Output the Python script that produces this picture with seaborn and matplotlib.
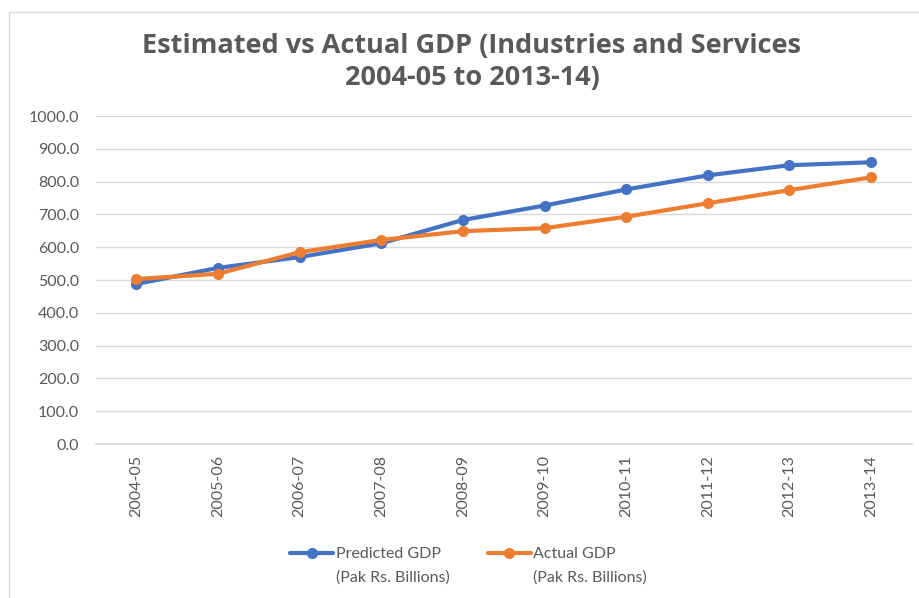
import matplotlib.pyplot as plt
import numpy as np
import pandas as pd
import seaborn as sns
from matplotlib.legend_handler import HandlerLine2D
from matplotlib.lines import Line2D

YEARS = ["2004-05", "2005-06", "2006-07", "2007-08", "2008-09",
         "2009-10", "2010-11", "2011-12", "2012-13", "2013-14"]
PREDICTED = [488, 537, 570, 612, 683, 727, 776, 819, 850, 859]
ACTUAL = [503, 519, 585, 622, 649, 658, 693, 734, 774, 813]
SERIES = ["Predicted GDP\n(Pak Rs. Billions)", "Actual GDP\n(Pak Rs. Billions)"]
COLORS = ["#4472C4", "#ED7D31"]

df = pd.DataFrame({
    "year": YEARS * 2,
    "gdp": PREDICTED + ACTUAL,
    "series": [SERIES[0]] * len(YEARS) + [SERIES[1]] * len(YEARS),
})


class TopLineHandler(HandlerLine2D):
    """Put the legend handle beside the first text line, as Excel does."""

    def create_artists(self, *args, **kwargs):
        artists = super().create_artists(*args, **kwargs)
        for a in artists:
            a.set_ydata(np.asarray(a.get_ydata()) + 9)
        return artists


sns.set_theme(style="white")
plt.rcParams["font.family"] = ["Lato", "DejaVu Sans"]

fig = plt.figure(figsize=(9.2, 5.98), dpi=100)
ax = fig.add_axes([0.104, 0.2575, 0.887, 0.5485])

sns.lineplot(data=df, x="year", y="gdp", hue="series", palette=COLORS,
             marker="o", markersize=8, markeredgewidth=0, linewidth=3,
             sort=False, ax=ax)

ax.set_xlim(-0.5, len(YEARS) - 0.5)
ax.set_ylim(0, 1000)
ax.set_yticks(range(0, 1001, 100))
ax.set_yticklabels([f"{v:.1f}" for v in range(0, 1001, 100)])
ax.yaxis.grid(True, color="#d9d9d9", linewidth=1)
ax.set_axisbelow(True)
for side in ["top", "right", "left"]:
    ax.spines[side].set_visible(False)
ax.spines["bottom"].set_color("#d9d9d9")
ax.tick_params(axis="x", rotation=90, labelsize=11.5, colors="#595959", length=0, pad=8)
ax.tick_params(axis="y", labelsize=11.5, colors="#595959", length=0, pad=12)
ax.set_xlabel("")
ax.set_ylabel("")

fig.text(0.513, 0.897, "Estimated vs Actual GDP (Industries and Services\n2004-05 to 2013-14)",
         ha="center", va="center", fontsize=19.5, fontweight="bold",
         color="#595959", family="Open Sans", linespacing=1.3)

handles, labels = ax.get_legend_handles_labels()
leg = ax.legend(handles, labels, loc="upper center", bbox_to_anchor=(0.457, -0.27),
                ncol=2, frameon=False, fontsize=11.5, labelcolor="#595959",
                handlelength=2.7, handletextpad=0.15, columnspacing=2.4,
                handler_map={Line2D: TopLineHandler()})
for t in leg.get_texts():
    t.set_linespacing(1.85)

# chart border (left and top edges visible in the reference)
fig.add_artist(Line2D([9.5 / 920, 9.5 / 920], [0, 1 - 12 / 598],
                      transform=fig.transFigure, color="#d9d9d9", linewidth=1))
fig.add_artist(Line2D([9.5 / 920, 1], [1 - 12 / 598, 1 - 12 / 598],
                      transform=fig.transFigure, color="#d9d9d9", linewidth=1))

fig.savefig("out.png", dpi=100)
